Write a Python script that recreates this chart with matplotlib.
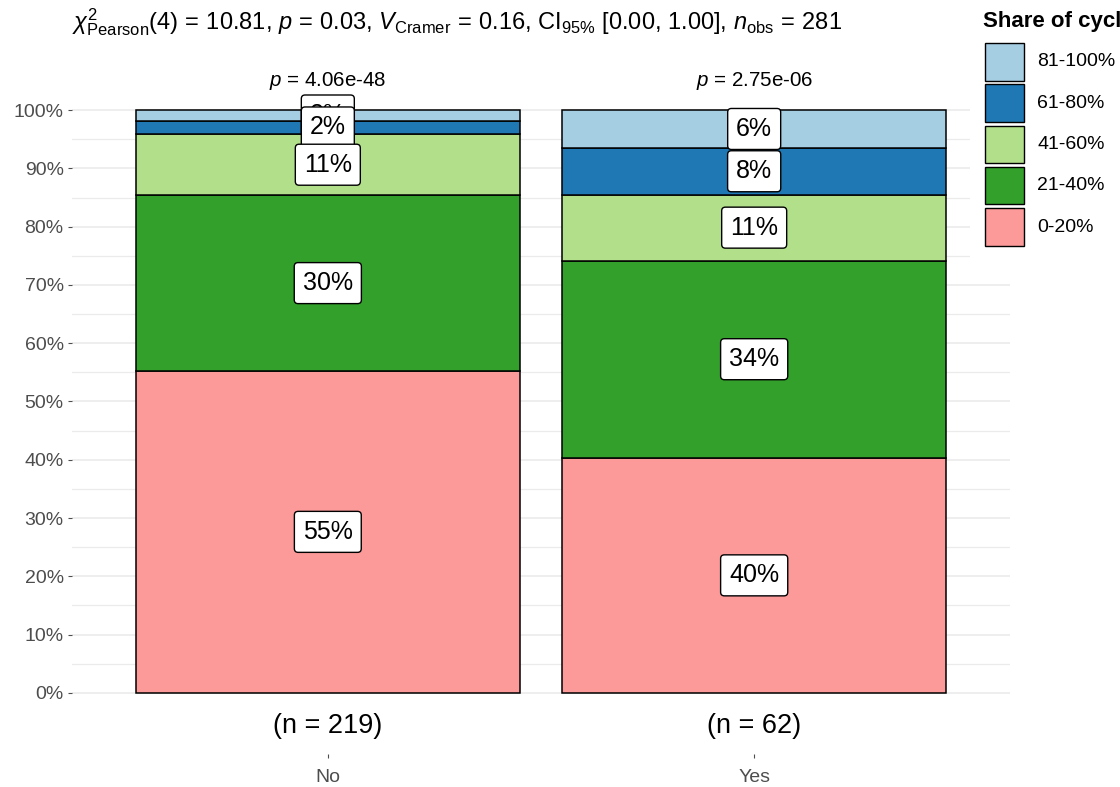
import matplotlib.pyplot as plt
from matplotlib.patches import Rectangle

plt.rcParams['font.family'] = ['Liberation Sans', 'DejaVu Sans']
plt.rcParams['mathtext.fontset'] = 'custom'
plt.rcParams['mathtext.rm'] = 'Liberation Sans'
plt.rcParams['mathtext.it'] = 'Liberation Sans:italic'
plt.rcParams['mathtext.bf'] = 'Liberation Sans:bold'

# counts per group, bottom segment first
groups = ['No', 'Yes']
shares = ['0-20%', '21-40%', '41-60%', '61-80%', '81-100%']
counts_no = [121, 66, 23, 5, 4]
counts_yes = [25, 21, 7, 5, 4]
p_values = ['4.06e-48', '2.75e-06']
colors = ['#FB9A99', '#33A02C', '#B2DF8A', '#1F78B4', '#A6CEE3']

W, H = 1120, 787
fig = plt.figure(figsize=(W / 100, H / 100), dpi=100)
ax = fig.add_axes([72 / W, 33 / H, (1010 - 72) / W, (754 - 49) / H])
ax.set_xlim(0.4, 2.6)
ax.set_ylim(-0.105, 1.105)

for i, counts in enumerate([counts_no, counts_yes]):
    x = i + 1
    n = sum(counts)
    bottom = 0.0
    for j, c in enumerate(counts):
        frac = c / n
        ax.bar(x, frac, bottom=bottom, width=0.9, color=colors[j],
               edgecolor='black', linewidth=1.1, zorder=2)
        # lower segments' labels are stacked on top of the upper ones
        ax.text(x, bottom + frac / 2, f'{round(frac * 100)}%', fontsize=18,
                ha='center', va='center', zorder=10 - j,
                bbox=dict(boxstyle='round,pad=0.34,rounding_size=0.15',
                          facecolor='white', edgecolor='black', linewidth=1.0))
        bottom += frac
    ax.text(x, 1.05, r'$\mathit{p}$ = ' + p_values[i], fontsize=14.8,
            ha='center', va='center')
    ax.text(x, -0.057, f'(n = {n})', fontsize=19.5, ha='center', va='center')

ax.set_yticks([k / 10 for k in range(11)])
ax.set_yticklabels([f'{k * 10}%' for k in range(11)])
ax.set_yticks([k / 10 + 0.05 for k in range(10)], minor=True)
ax.set_xticks([1, 2])
ax.set_xticklabels(groups)
ax.tick_params(axis='both', which='major', labelsize=14, labelcolor='#4D4D4D',
               color='#4D4D4D', length=3, width=0.8)
ax.tick_params(axis='x', pad=8)
ax.tick_params(axis='y', pad=3)
ax.tick_params(which='minor', length=0)
ax.grid(axis='y', which='major', color='#EBEBEB', linewidth=1.2, zorder=0)
ax.grid(axis='y', which='minor', color='#EBEBEB', linewidth=0.9, zorder=0)
ax.set_axisbelow(True)
for s in ax.spines.values():
    s.set_visible(False)

fig.text(72 / W, 1 - 22 / H,
         r'$\chi^{2}_{\mathrm{Pearson}}(4)\,=\,10.81$, $\mathit{p}\,=\,0.03$, '
         r'$\mathit{V}_{\mathrm{Cramer}}\,=\,0.16$, $\mathrm{CI}_{95\%}$ [0.00, 1.00], '
         r'$\mathit{n}_{\mathrm{obs}}\,=\,281$',
         fontsize=17, ha='left', va='center')

# legend drawn by hand in figure pixels, white backdrop behind it
fig.patches.append(Rectangle((970 / W, 1 - 270 / H), 150 / W, 270 / H,
                             transform=fig.transFigure, facecolor='white',
                             edgecolor='none', zorder=1))
fig.text(983 / W, 1 - 22 / H, 'Share of cycling', fontsize=16,
         fontweight='bold', ha='left', va='center')
for k, j in enumerate(range(4, -1, -1)):
    top = 43 + k * 41.3
    fig.patches.append(Rectangle((985 / W, 1 - (top + 37.5) / H), 39 / W, 37.5 / H,
                                 transform=fig.transFigure, facecolor=colors[j],
                                 edgecolor='black', linewidth=1.0, zorder=2))
    fig.text(1037 / W, 1 - (top + 19) / H, shares[j], fontsize=14,
             ha='left', va='center')

fig.savefig('out.png', dpi=100)
